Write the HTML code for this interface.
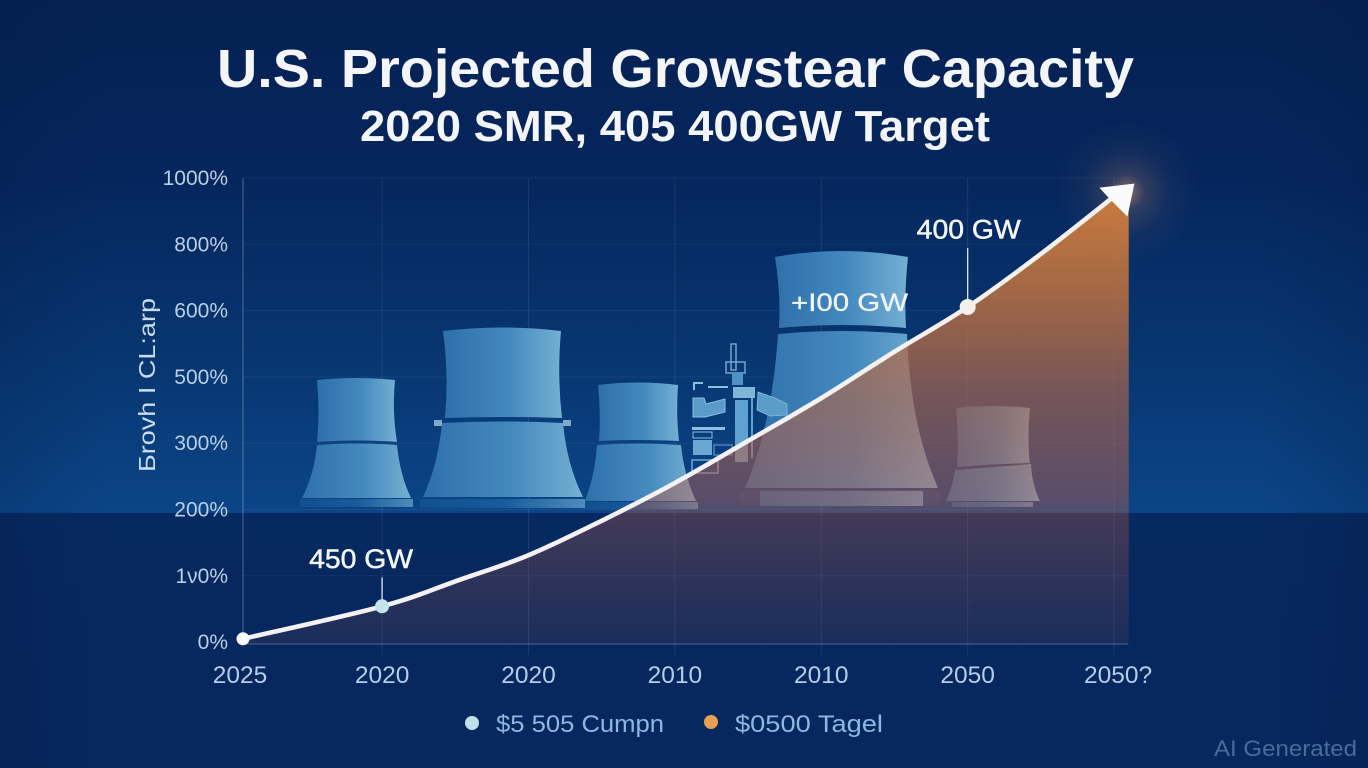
<!DOCTYPE html>
<html lang="en">
<head>
<meta charset="utf-8">
<title>U.S. Projected Growstear Capacity</title>
<style>
html,body{margin:0;padding:0;background:#06245a;}
body{width:1368px;height:768px;overflow:hidden;}
svg{display:block;font-family:"Liberation Sans",Arial,sans-serif;}
</style>
</head>
<body>
<svg id="chart" xmlns="http://www.w3.org/2000/svg" width="1368" height="768" viewBox="0 0 1368 768">
  <defs>
    <linearGradient id="bgTop" x1="0" y1="0" x2="0" y2="1">
      <stop offset="0" stop-color="#052152"/>
      <stop offset="0.35" stop-color="#05265d"/>
      <stop offset="0.7" stop-color="#083671"/>
      <stop offset="1" stop-color="#0b4587"/>
    </linearGradient>
    <linearGradient id="bgBottom" x1="0" y1="0" x2="0" y2="1">
      <stop offset="0" stop-color="#06295f"/>
      <stop offset="0.5" stop-color="#06285f"/>
      <stop offset="1" stop-color="#06285e"/>
    </linearGradient>
    <linearGradient id="vignette" x1="0" y1="0" x2="1" y2="0">
      <stop offset="0" stop-color="#031a44" stop-opacity="0.2"/>
      <stop offset="0.08" stop-color="#031a44" stop-opacity="0"/>
      <stop offset="0.92" stop-color="#031a44" stop-opacity="0"/>
      <stop offset="1" stop-color="#031a44" stop-opacity="0.2"/>
    </linearGradient>
    <linearGradient id="towerFill" x1="0" y1="0" x2="1" y2="0">
      <stop offset="0" stop-color="#2f70ab"/>
      <stop offset="0.55" stop-color="#4489be"/>
      <stop offset="1" stop-color="#75b0d3"/>
    </linearGradient>
    <linearGradient id="plinthFill" x1="0" y1="0" x2="1" y2="0">
      <stop offset="0" stop-color="#124f90"/>
      <stop offset="0.5" stop-color="#175b9a"/>
      <stop offset="1" stop-color="#4f8cba"/>
    </linearGradient>
    <linearGradient id="areaFill" gradientUnits="userSpaceOnUse" x1="0" y1="190" x2="0" y2="645">
      <stop offset="0" stop-color="#cb7c3c" stop-opacity="1"/>
      <stop offset="0.24" stop-color="#b86f42" stop-opacity="0.86"/>
      <stop offset="0.46" stop-color="#aa634a" stop-opacity="0.66"/>
      <stop offset="0.68" stop-color="#b85a48" stop-opacity="0.45"/>
      <stop offset="0.72" stop-color="#bc5a46" stop-opacity="0.33"/>
      <stop offset="1" stop-color="#c05a40" stop-opacity="0.1"/>
    </linearGradient>
    <radialGradient id="glowFill">
      <stop offset="0" stop-color="#f0a878" stop-opacity="0.6"/>
      <stop offset="0.25" stop-color="#c88868" stop-opacity="0.22"/>
      <stop offset="0.6" stop-color="#c88868" stop-opacity="0.06"/>
      <stop offset="1" stop-color="#c88868" stop-opacity="0"/>
    </radialGradient>
  </defs>

  <rect x="0" y="0" width="1368" height="513" fill="url(#bgTop)"/>
  <rect x="0" y="513" width="1368" height="255" fill="url(#bgBottom)"/>
  <rect x="0" y="0" width="1368" height="768" fill="url(#vignette)"/>
  <circle cx="1127" cy="192" r="72" fill="url(#glowFill)"/>

  <text x="217" y="87" font-size="54" font-weight="700" fill="#f3f5f9" textLength="917" lengthAdjust="spacingAndGlyphs">U.S. Projected Growstear Capacity</text>
  <text x="360" y="141" font-size="44" font-weight="700" fill="#f3f5f9" textLength="630" lengthAdjust="spacingAndGlyphs">2020 SMR, 405 400GW Target</text>

  <g id="grid"></g>

  <g>
    <g>
      <path d="M317 380Q356 376 395 380Q392 412 397 442Q356 439 317 442Q320 412 317 380Z" fill="url(#towerFill)"/>
      <path d="M317 445Q356 442 397 445Q400 475 411 498L302 498Q314 475 317 445Z" fill="url(#towerFill)"/>
      <rect x="300" y="499" width="113" height="8" fill="url(#plinthFill)"/>
    </g>
    <g>
      <path d="M443 331Q502 324 561 331Q557 375 562 418Q502 416 445 418Q449 375 443 331Z" fill="url(#towerFill)"/>
      <path d="M442 423Q502 420 563 423Q567 465 583 497L423 497Q438 465 442 423Z" fill="url(#towerFill)"/>
      <rect x="434" y="420" width="8" height="6" fill="#7fa9cc"/>
      <rect x="563" y="420" width="8" height="6" fill="#7fa9cc"/>
      <rect x="420" y="499" width="165" height="9" fill="url(#plinthFill)"/>
    </g>
    <g>
      <path d="M598 385Q638 380 678 385Q676 415 679 441Q638 439 599 441Q601 415 598 385Z" fill="url(#towerFill)"/>
      <path d="M597 445Q638 442 681 445Q684 475 696 501L585 501Q595 475 597 445Z" fill="url(#towerFill)"/>
      <rect x="585" y="502" width="113" height="7" fill="url(#plinthFill)"/>
    </g>
    <g>
      <rect x="731" y="344" width="5" height="26" fill="none" stroke="#6fa6d0" stroke-width="1.5"/>
      <rect x="726" y="362" width="19" height="11" fill="none" stroke="#6fa6d0" stroke-width="1.5"/>
      <rect x="732" y="373" width="11" height="12" fill="#4f93c4"/>
      <rect x="733" y="387" width="22" height="11" fill="#7fb6d8"/>
      <rect x="735" y="400" width="13" height="62" fill="#5fa2cf"/>
      <rect x="751" y="398" width="2" height="60" fill="#5fa2cf"/>
      <path d="M694 390V383H703M708 387H728" fill="none" stroke="#8dbfe0" stroke-width="2"/>
      <path d="M693 398H704L706 404L725 399V412L705 417H693Z" fill="#5a9bc9" stroke="#8dbfe0" stroke-width="1"/>
      <rect x="692" y="427" width="33" height="3" fill="#8dbfe0"/>
      <rect x="693" y="432" width="19" height="6" fill="none" stroke="#8dbfe0" stroke-width="1"/>
      <rect x="693" y="440" width="19" height="15" fill="#6aa8d3"/>
      <rect x="714" y="445" width="18" height="10" fill="none" stroke="#6fa6d0" stroke-width="1"/>
      <rect x="692" y="460" width="26" height="13" fill="none" stroke="#6fa6d0" stroke-width="1.5"/>
    </g>
    <g>
      <path d="M775 257Q841 245 908 257Q904 295 906 328Q841 322 779 328Q781 295 775 257Z" fill="url(#towerFill)"/>
      <path d="M778 334Q841 328 907 334Q910 425 938 488L745 488Q772 425 778 334Z" fill="url(#towerFill)"/>
      <path d="M758 392L775 398L787 404V415L770 416L757 410Z" fill="#5b9cc9" stroke="#8dbfe0" stroke-width="0.8"/>
      <rect x="740" y="490" width="200" height="16" fill="#1e4c88" opacity="0.7"/>
      <rect x="760" y="491" width="163" height="15" fill="url(#towerFill)" opacity="0.8"/>
    </g>
    <g>
      <path d="M956 408Q993 404 1030 408Q1027 440 1030 463Q993 464 957 467Q959 440 956 408Z" fill="url(#towerFill)"/>
      <path d="M955 470Q993 467 1031 464Q1032 485 1040 501L946 501Q953 485 955 470Z" fill="url(#towerFill)"/>
      <rect x="952" y="502" width="81" height="5" fill="url(#towerFill)" opacity="0.7"/>
    </g>
  </g>

  <path id="area" fill="url(#areaFill)"/>
  <g id="gridOver"></g>

  <text transform="translate(155,472) rotate(-90)" font-size="23" fill="#c9dcee" textLength="174" lengthAdjust="spacingAndGlyphs">Бrovh I CL:arp</text>
  <g id="yLabels"></g>
  <g id="xLabels"></g>

  <path id="line" fill="none" stroke="#f5f1f2" stroke-width="4.6" stroke-linecap="butt"/>
  <polygon id="arrow" points="13,-7 -22,-3 -12,8 6,26" fill="#fbfafa"/>
  <g id="callouts"></g>

  <text x="791" y="311" font-size="25" fill="#eef3f8" stroke="#eef3f8" stroke-width="0.3" textLength="117" lengthAdjust="spacingAndGlyphs">+I00 GW</text>

  <g>
    <g>
      <circle cx="472" cy="723" r="7" fill="#bfe0ea"/>
      <text x="496" y="732" font-size="24" fill="#8fb8e0" textLength="168" lengthAdjust="spacingAndGlyphs">$5 505 Cumpn</text>
    </g>
    <g>
      <circle cx="711" cy="722" r="7" fill="#e8a050"/>
      <text x="735" y="732" font-size="24" fill="#8fb8e0" textLength="148" lengthAdjust="spacingAndGlyphs">$0500 Tagel</text>
    </g>
  </g>

  <text x="1214" y="756" font-size="22" fill="#4a6b9a" textLength="143" lengthAdjust="spacingAndGlyphs">AI Generated</text>
</svg>

<script>
// Chart data
const xTickLabels = ['2025', '2020', '2020', '2010', '2010', '2050', '2050?'];
const xTickValues = [0, 19, 39, 59, 79, 99, 119];
const yTickLabels = ['0%', '1\u03bd0%', '200%', '300%', '500%', '600%', '800%', '1000%'];
const yTickValues = [0, 100, 200, 300, 500, 600, 800, 1000];
const seriesX = [0, 19, 29.6, 39, 49, 59, 69, 79, 89, 99, 109, 120];
const seriesY = [5, 54, 94, 131, 183, 240, 307, 436, 538, 611, 771, 962];
const calloutLabels = ['450 GW', '400 GW'];
const calloutX = [19, 99];
const calloutY = [54, 611];
const xDomainMax = 121;

const svgNS = 'http://www.w3.org/2000/svg';

function xScale(v) {
  return 243 + 7.32 * v;
}
// The reference's y axis puts its uneven tick values at even spacing
function yScale(v) {
  const top = 178, step = 66.3;
  const n = yTickValues.length - 1;
  const baseY = top + step * n;
  for (let i = 0; i < n; i++) {
    if (v <= yTickValues[i + 1] || i === n - 1) {
      const t = (v - yTickValues[i]) / (yTickValues[i + 1] - yTickValues[i]);
      return baseY - step * (i + t);
    }
  }
  return baseY;
}
function make(tag, attrs, parent, text) {
  const el = document.createElementNS(svgNS, tag);
  for (const k in attrs) el.setAttribute(k, attrs[k]);
  if (text !== undefined) el.textContent = text;
  parent.appendChild(el);
  return el;
}

const grid = document.getElementById('grid');
const gridOver = document.getElementById('gridOver');
const yLabels = document.getElementById('yLabels');
const xLabels = document.getElementById('xLabels');
const callouts = document.getElementById('callouts');

yTickValues.forEach(function (v, i) {
  const y = yScale(v);
  if (i > 0) {
    const g = make('line', {x1: 243, x2: 1128, y1: y, y2: y, stroke: '#ffffff', 'stroke-opacity': 0.06, 'stroke-width': 1}, grid);
    
    
  }
  const t = make('text', {x: 228, y: y + 7, 'font-size': 21, 'text-anchor': 'end', fill: '#b9cfe6'}, yLabels, yTickLabels[i]);
  
  
});

xTickValues.forEach(function (v, i) {
  const x = xScale(v);
  if (i > 0) {
    const g = make('line', {x1: x, x2: x, y1: 178, y2: 655, stroke: '#ffffff', 'stroke-opacity': 0.09, 'stroke-width': 1}, grid);
    
    
  }
  const t = make('text', {x: x + (i === 0 ? -3 : i === 6 ? 4 : 0), y: 683, 'font-size': 24.5, 'text-anchor': 'middle', fill: '#b5cde6'}, xLabels, xTickLabels[i]);
  
  
});

const xAxisLine = make('line', {x1: 243, x2: 1128, y1: 644, y2: 644, stroke: '#ffffff', 'stroke-opacity': 0.22, 'stroke-width': 1.2}, gridOver);


const yAxisLine = make('line', {x1: 243, x2: 243, y1: 178, y2: 644, stroke: '#ffffff', 'stroke-opacity': 0.25, 'stroke-width': 1.2}, gridOver);



// Smooth curve through the series
const pts = seriesX.map(function (v, i) {
  return [xScale(v), yScale(seriesY[i])];
});
let curve = 'M' + pts[0][0] + ' ' + pts[0][1];
for (let i = 0; i < pts.length - 1; i++) {
  const p0 = pts[Math.max(0, i - 1)];
  const p1 = pts[i];
  const p2 = pts[i + 1];
  const p3 = pts[Math.min(pts.length - 1, i + 2)];
  const c1x = p1[0] + (p2[0] - p0[0]) / 6;
  const c1y = p1[1] + (p2[1] - p0[1]) / 6;
  const c2x = p2[0] - (p3[0] - p1[0]) / 6;
  const c2y = p2[1] - (p3[1] - p1[1]) / 6;
  curve += 'C' + c1x + ' ' + c1y + ' ' + c2x + ' ' + c2y + ' ' + p2[0] + ' ' + p2[1];
}
document.getElementById('line').setAttribute('d', curve);
const last = pts[pts.length - 1];
const areaRight = xScale(xDomainMax);
document.getElementById('area').setAttribute('d', curve + 'L' + areaRight + ' ' + last[1] + 'L' + areaRight + ' 644L' + pts[0][0] + ' 644Z');
document.getElementById('arrow').setAttribute('transform', 'translate(' + last[0] + ',' + last[1] + ')');

// Start point marker
const startDot = make('circle', {cx: pts[0][0], cy: pts[0][1], r: 6.5, fill: '#fbfafa'}, callouts);



// Callouts with leader lines
const calloutStyles = [
  {fill: '#c5e3ec', r: 7, lead: 29, textX: -21},
  {fill: '#f3efe9', r: 8, lead: 59, textX: 1}
];
calloutLabels.forEach(function (label, i) {
  const x = xScale(calloutX[i]);
  const y = yScale(calloutY[i]);
  const s = calloutStyles[i];
  const leader = make('line', {x1: x, x2: x, y1: y - s.lead, y2: y, stroke: '#dfe8f2', 'stroke-width': 1.3}, callouts);
  
  
  const dot = make('circle', {cx: x, cy: y, r: s.r, fill: s.fill}, callouts);
  
  
  const t = make('text', {x: x + s.textX, y: y - s.lead - 9.5, 'font-size': 27, 'text-anchor': 'middle', fill: '#f3f5f9', stroke: '#f3f5f9', 'stroke-width': 0.5, textLength: 104, lengthAdjust: 'spacingAndGlyphs'}, callouts, label);
  
  
});
</script>
</body>
</html>
